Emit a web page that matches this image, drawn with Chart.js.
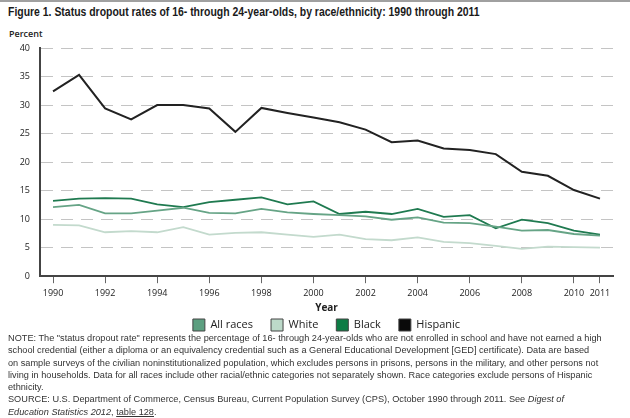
<!DOCTYPE html>
<html>
<head>
<meta charset="utf-8">
<script src="https://cdn.jsdelivr.net/npm/chart.js@4/dist/chart.umd.min.js"></script>
<style>
  body { margin: 0; background: #fff; width: 630px; height: 418px; overflow: hidden; position: relative; font-family: "Liberation Sans", Arial, sans-serif; }
  #topline { position: absolute; left: 0; top: 0; width: 630px; height: 2px; background: #a0a0a0; }
  #title { position: absolute; left: 8px; top: 5px; font-weight: bold; font-size: 12px; color: #1a1a1a; white-space: nowrap; transform: scaleX(0.87); transform-origin: left top; }
  #percent { position: absolute; left: 9px; top: 27px; font-family: "Open Sans", sans-serif; font-weight: 600; font-size: 9px; color: #222; }
  #wrap { position: absolute; left: 0; top: 26px; width: 630px; height: 315px; }
  #note { position: absolute; left: 8px; top: 332px; font-family: "Liberation Sans", Arial, sans-serif; font-size: 8.5px; line-height: 12.3px; color: #333; white-space: nowrap; transform: scaleX(1.08); transform-origin: left top; }
  #note a { color: #333; text-decoration: underline; }
</style>
</head>
<body>
<div id="topline"></div>
<div id="title">Figure 1. Status dropout rates of 16- through 24-year-olds, by race/ethnicity: 1990 through 2011</div>
<div id="percent">Percent</div>
<div id="wrap"><canvas id="grafico"></canvas></div>
<div id="note">NOTE: The "status dropout rate" represents the percentage of 16- through 24-year-olds who are not enrolled in school and have not earned a high<br>school credential (either a diploma or an equivalency credential such as a General Educational Development [GED] certificate). Data are based<br>on sample surveys of the civilian noninstitutionalized population, which excludes persons in prisons, persons in the military, and other persons not<br>living in households. Data for all races include other racial/ethnic categories not separately shown. Race categories exclude persons of Hispanic<br>ethnicity.<br>SOURCE: U.S. Department of Commerce, Census Bureau, Current Population Survey (CPS), October 1990 through 2011. See <i>Digest of<br>Education Statistics 2012</i>, <a>table 128</a>.</div>

<script>
// anni e valori
let anni = [1990, 1991, 1992, 1993, 1994, 1995, 1996, 1997, 1998, 1999, 2000,
            2001, 2002, 2003, 2004, 2005, 2006, 2007, 2008, 2009, 2010, 2011];
let tickAnni = [1990, 1992, 1994, 1996, 1998, 2000, 2002, 2004, 2006, 2008, 2010, 2011];

let allRaces = [12.1, 12.5, 11.0, 11.0, 11.5, 12.0, 11.1, 11.0, 11.8, 11.2, 10.9,
                10.7, 10.5, 9.9, 10.3, 9.4, 9.3, 8.7, 8.0, 8.1, 7.4, 7.1];
let white    = [9.0, 8.9, 7.7, 7.9, 7.7, 8.6, 7.3, 7.6, 7.7, 7.3, 6.9,
                7.3, 6.5, 6.3, 6.8, 6.0, 5.8, 5.3, 4.8, 5.2, 5.1, 5.0];
let black    = [13.2, 13.6, 13.7, 13.6, 12.6, 12.1, 13.0, 13.4, 13.8, 12.6, 13.1,
                10.9, 11.3, 10.9, 11.8, 10.4, 10.7, 8.4, 9.9, 9.3, 8.0, 7.3];
let hispanic = [32.4, 35.3, 29.4, 27.5, 30.0, 30.0, 29.4, 25.3, 29.5, 28.6, 27.8,
                27.0, 25.7, 23.5, 23.8, 22.4, 22.1, 21.4, 18.3, 17.6, 15.1, 13.6];

let serie = [
    { nome: "All races", valori: allRaces, linea: "#66a486", box: "#5c9f80", spessore: 1.8 },
    { nome: "White",     valori: white,    linea: "#c3dacd", box: "#bcd9c9", spessore: 1.8 },
    { nome: "Black",     valori: black,    linea: "#1f7a50", box: "#0d7c45", spessore: 1.8 },
    { nome: "Hispanic",  valori: hispanic, linea: "#222222", box: "#0a0a0a", spessore: 2 }
];

let font = "'Open Sans', sans-serif";

// sposta un po' la legenda verso destra, come nell'originale
let spostaLegenda = {
    id: "spostaLegenda",
    afterLayout: function(c) {
        if (c.legend) c.legend.left += 40;
    }
};

let chart = new Chart("grafico", {
    type: "line",
    data: {
        datasets: serie.map(s => ({
            label: s.nome,
            data: s.valori.map((v, i) => ({ x: anni[i], y: v })),
            borderColor: s.linea,
            backgroundColor: s.box,
            borderWidth: s.spessore,
            pointRadius: 0,
            tension: 0
        }))
    },
    plugins: [spostaLegenda],
    options: {
        responsive: true,
        maintainAspectRatio: false,
        animation: false,
        layout: { padding: { left: 0, right: 17, top: 22, bottom: 0 } },
        plugins: {
            tooltip: { enabled: false },
            legend: {
                position: "bottom",
                labels: {
                    boxWidth: 12,
                    boxHeight: 12,
                    padding: 18,
                    color: "#222",
                    font: { family: font, size: 11 },
                    generateLabels: function(c) {
                        return c.data.datasets.map((d, i) => ({
                            text: d.label,
                            fillStyle: d.backgroundColor,
                            strokeStyle: "#444",
                            lineWidth: 1,
                            hidden: false,
                            datasetIndex: i,
                            fontColor: "#222"
                        }));
                    }
                }
            }
        },
        scales: {
            x: {
                type: "linear",
                min: 1989.5,
                max: 2011.5,
                afterBuildTicks: function(scale) {
                    scale.ticks = tickAnni.map(v => ({ value: v }));
                },
                ticks: {
                    color: "#222",
                    font: { family: font, size: 9 },
                    padding: 5,
                    maxRotation: 0,
                    autoSkip: false,
                    callback: v => String(v)
                },
                grid: { drawOnChartArea: false, drawTicks: true, tickLength: 7, tickColor: "#666", tickWidth: 1 },
                border: { color: "#444", width: 2 },
                title: {
                    display: true,
                    text: "Year",
                    color: "#222",
                    font: { family: font, size: 10, weight: "bold" },
                    padding: { top: -2, bottom: -13 }
                }
            },
            y: {
                min: 0,
                max: 40,
                afterFit: function(scale) { scale.width = 40; },
                ticks: {
                    stepSize: 5,
                    color: "#222",
                    font: { family: font, size: 9 },
                    padding: 10
                },
                grid: { color: "#c4c4c4", lineWidth: 1, drawTicks: false },
                border: { color: "#444", width: 2, dash: [12, 8] }
            }
        }
    }
});
</script>
</body>
</html>
